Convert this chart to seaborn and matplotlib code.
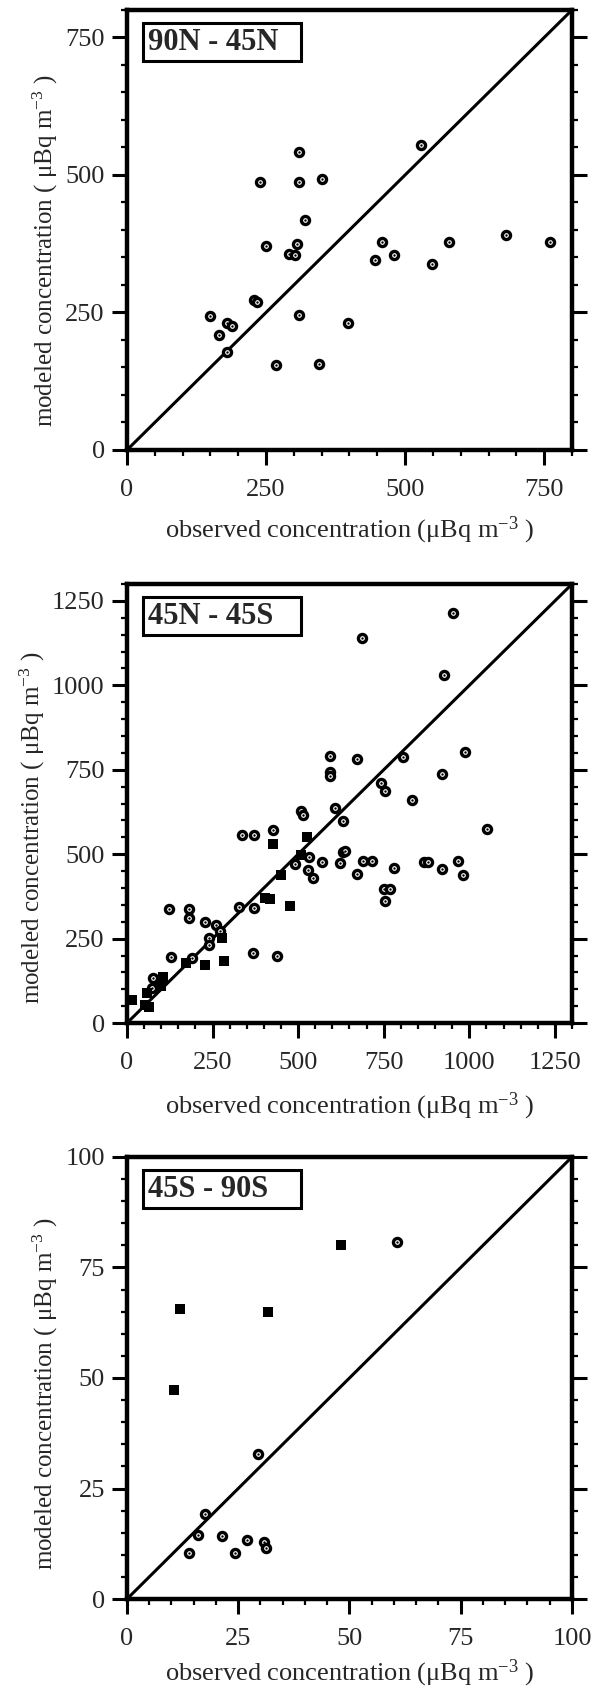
import matplotlib
matplotlib.use("Agg")
import matplotlib.pyplot as plt
import seaborn as sns
import pandas as pd
from matplotlib.ticker import MultipleLocator
from matplotlib.patches import Rectangle

# ---------------- data ----------------
region_titles = ["90N - 45N", "45N - 45S", "45S - 90S"]
axis_limits = [800, 1300, 100]
major_steps = [250, 250, 25]
minor_steps = [50, 50, 5]

# Panel 1 (90N-45N): open circles
p1_circ_obs = [149, 166, 179, 189, 180, 240, 250, 228, 234, 268, 309, 309, 350,
               320, 305, 292, 302, 309, 346, 397, 445, 459, 480, 528, 549, 579, 682, 761]
p1_circ_mod = [244, 209, 230, 226, 179, 487, 370, 273, 269, 154, 542, 487, 492,
               418, 375, 357, 355, 245, 156, 231, 346, 378, 355, 555, 339, 378, 391, 378]
p1_sq_obs = []
p1_sq_mod = []

# Panel 2 (45N-45S): open circles
p2_circ_obs = [123, 130, 182, 182, 191, 228, 259, 240, 240, 273, 328, 336, 371, 371,
               369, 437, 426, 490, 507, 513, 531, 529, 542, 570, 593, 593, 593, 609,
               630, 630, 636, 622, 672, 672, 690, 716, 686, 743, 755, 751, 769, 755,
               779, 805, 834, 868, 879, 921, 921, 925, 953, 967, 981, 986, 1052,
               77, 74, 93]
p2_circ_mod = [338, 195, 338, 311, 192, 299, 290, 253, 232, 274, 345, 556, 556, 341,
               206, 200, 573, 472, 628, 615, 493, 453, 431, 478, 791, 744, 733, 638,
               598, 506, 510, 475, 781, 440, 480, 480, 1141, 712, 688, 398, 398, 362,
               459, 788, 661, 478, 478, 457, 738, 1031, 1213, 480, 438, 802, 575,
               132, 104, 116]
# Panel 2: filled squares
p2_sq_obs = [16, 58, 64, 53, 106, 99, 173, 228, 283, 279, 402, 419, 426, 450, 475, 526, 507]
p2_sq_mod = [69, 90, 48, 53, 137, 111, 179, 171, 183, 251, 371, 368, 530, 438, 348, 552, 499]

# Panel 3 (45S-90S)
p3_circ_obs = [60.7, 29.4, 17.5, 16.0, 14.0, 21.4, 24.3, 26.9, 30.9, 31.3]
p3_circ_mod = [80.8, 32.7, 19.3, 14.4, 10.5, 14.2, 10.5, 13.3, 13.0, 11.5]
p3_sq_obs = [10.6, 11.9, 31.8, 48.2]
p3_sq_mod = [47.2, 65.6, 64.9, 80.0]

circ_obs = [p1_circ_obs, p2_circ_obs, p3_circ_obs]
circ_mod = [p1_circ_mod, p2_circ_mod, p3_circ_mod]
sq_obs = [p1_sq_obs, p2_sq_obs, p3_sq_obs]
sq_mod = [p1_sq_mod, p2_sq_mod, p3_sq_mod]

xlabel_text = r"observed concentration ($\mu$Bq m$^{-3}$ )"
ylabel_text = r"modeled concentration ( $\mu$Bq m$^{-3}$ )"

# ---------------- style ----------------
sns.set_style("ticks")
plt.rcParams["font.family"] = ["Liberation Serif", "DejaVu Serif"]
plt.rcParams["mathtext.fontset"] = "custom"
plt.rcParams["mathtext.rm"] = "Liberation Serif"
plt.rcParams["mathtext.it"] = "Liberation Serif"
plt.rcParams["mathtext.default"] = "regular"

fig = plt.figure(figsize=(5.92, 16.91), dpi=100)
rects = [[0.2145, 0.7339, 0.7517, 0.2602],
         [0.2145, 0.3950, 0.7517, 0.2596],
         [0.2145, 0.0544, 0.7517, 0.2614]]
ylabel_pos = [(-0.184, 0.452), (-0.212, 0.445), (-0.184, 0.465)]
xlabel_pos = [(0.5, -0.182), (0.5, -0.19), (0.5, -0.168)]

for i in range(3):
    ax = fig.add_axes(rects[i])
    lim = axis_limits[i]
    ax.plot([0, lim], [0, lim], color="black", lw=2.2, zorder=2, solid_capstyle="butt")

    if len(circ_obs[i]):
        df_c = pd.DataFrame({"obs": circ_obs[i], "mod": circ_mod[i]})
        sns.scatterplot(data=df_c, x="obs", y="mod", ax=ax, marker="o", s=34,
                        facecolor="white", edgecolor="black", linewidth=2.4, zorder=3)
        sns.scatterplot(data=df_c, x="obs", y="mod", ax=ax, marker="o", s=3,
                        color="black", linewidth=0, zorder=4)
    if len(sq_obs[i]):
        df_s = pd.DataFrame({"obs": sq_obs[i], "mod": sq_mod[i]})
        sns.scatterplot(data=df_s, x="obs", y="mod", ax=ax, marker="s", s=60,
                        color="black", linewidth=0, zorder=5)

    ax.set_xlim(0, lim)
    ax.set_ylim(0, lim)
    for axis in (ax.xaxis, ax.yaxis):
        axis.set_major_locator(MultipleLocator(major_steps[i]))
        axis.set_minor_locator(MultipleLocator(minor_steps[i]))
    ax.tick_params(which="both", direction="out", top=False, right=True,
                   labelright=False, labeltop=False, color="black")
    ax.tick_params(which="major", length=11, width=2.2, labelsize=19)
    ax.tick_params(which="minor", length=4.5, width=1.6)
    ax.tick_params(axis="x", which="major", pad=10)
    ax.tick_params(axis="y", which="major", pad=5)
    for sp in ax.spines.values():
        sp.set_visible(True)
        sp.set_linewidth(3.2)
        sp.set_color("black")

    ax.set_xlabel(xlabel_text, fontsize=19)
    ax.set_ylabel(ylabel_text, fontsize=18)
    ax.xaxis.label.set_va("center")
    ax.yaxis.label.set_va("center")
    ax.xaxis.set_label_coords(*xlabel_pos[i])
    ax.yaxis.set_label_coords(*ylabel_pos[i])

    ax.add_patch(Rectangle((0.035, 0.885), 0.357, 0.086, transform=ax.transAxes,
                           facecolor="white", edgecolor="black", lw=2.2, zorder=6))
    ax.text(0.048, 0.927, region_titles[i], transform=ax.transAxes, fontsize=22,
            fontweight="bold", ha="left", va="center", zorder=7)

fig.savefig("out.png", dpi=100)
